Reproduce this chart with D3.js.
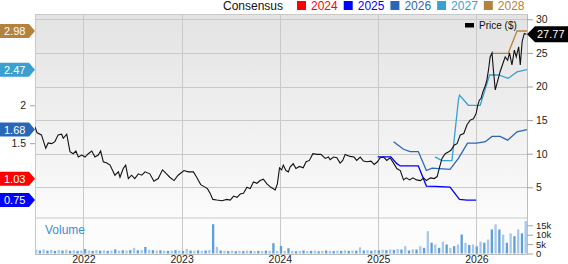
<!DOCTYPE html>
<html>
<head>
<meta charset="utf-8">
<script src="https://cdn.jsdelivr.net/npm/d3@7"></script>
<style>
  body { margin: 0; background: #fff; }
  svg { display: block; font-family: "Liberation Sans", Arial, sans-serif; }
</style>
</head>
<body>
<svg id="chart" width="568" height="264"></svg>
<script>
// ---- data ----
var consensusYears = ["2024", "2025", "2026", "2027", "2028"];
var consensusColors = ["#ff0000", "#0000ff", "#2a66b8", "#3aa0d0", "#b3823e"];
var consensusNow = [1.03, 0.75, 1.68, 2.47, 2.98];

var eps2025 = [["2024-12-30",1.32],["2025-02-17",1.32],["2025-03-11",1.23],["2025-03-24",1.20],["2025-05-30",1.20],
  ["2025-06-29",0.935],["2025-07-31",0.93],["2025-09-25",0.92],["2025-10-30",0.76],["2025-11-27",0.75],["2025-12-31",0.75]];
var eps2026 = [["2025-02-27",1.52],["2025-04-05",1.42],["2025-04-30",1.39],["2025-05-30",1.39],["2025-06-29",1.14],
  ["2025-07-20",1.17],["2025-09-25",1.155],["2025-10-26",1.30],["2025-11-29",1.50],["2026-01-02",1.50],["2026-02-03",1.52],
  ["2026-02-28",1.59],["2026-03-30",1.59],["2026-04-27",1.54],["2026-06-01",1.65],["2026-07-08",1.68]];
var eps2027 = [["2025-07-31",1.32],["2025-08-26",1.27],["2025-10-02",1.27],["2025-10-26",2.07],["2025-10-30",2.135],
  ["2025-12-02",2.0],["2026-01-15",2.0],["2026-02-19",2.40],["2026-03-24",2.40],["2026-04-29",2.355],["2026-06-01",2.44],["2026-07-08",2.47]];
var eps2028 = [["2026-02-28",2.685],["2026-04-29",2.685],["2026-06-01",2.98],["2026-07-08",2.98]];

var price = [["2021-07-05",14.0],["2021-07-13",13.1],["2021-07-29",12.8],["2021-08-14",10.8],["2021-08-23",11.6],["2021-09-05",11.5],
  ["2021-09-17",11.8],["2021-09-29",12.8],["2021-10-12",12.9],["2021-10-18",12.3],["2021-10-31",12.9],["2021-11-12",10.3],
  ["2021-11-24",10.0],["2021-12-04",10.4],["2021-12-13",9.5],["2021-12-26",9.8],["2022-01-07",9.5],["2022-01-19",10.0],
  ["2022-02-01",10.4],["2022-02-13",9.5],["2022-02-25",9.8],["2022-03-06",10.4],["2022-03-16",8.8],["2022-03-29",8.6],
  ["2022-04-10",8.3],["2022-04-28",6.8],["2022-05-11",7.3],["2022-05-17",6.5],["2022-05-29",7.8],["2022-06-07",8.3],
  ["2022-06-17",6.3],["2022-06-29",6.8],["2022-07-11",6.3],["2022-07-24",7.0],["2022-08-06",6.8],["2022-08-18",7.3],
  ["2022-09-05",7.0],["2022-09-20",5.9],["2022-10-06",6.3],["2022-10-22",7.6],["2022-11-06",7.0],["2022-11-18",6.5],
  ["2022-12-04",6.0],["2022-12-19",6.8],["2023-01-10",7.5],["2023-01-26",7.3],["2023-02-14",7.3],["2023-02-26",6.5],
  ["2023-03-13",5.4],["2023-03-26",5.1],["2023-04-07",4.8],["2023-04-17",4.1],["2023-04-27",3.2],["2023-05-12",3.1],
  ["2023-05-31",3.0],["2023-06-18",3.2],["2023-07-01",3.1],["2023-07-13",3.7],["2023-07-26",3.5],["2023-08-07",4.0],
  ["2023-08-19",4.1],["2023-09-01",5.0],["2023-09-13",4.8],["2023-09-25",5.8],["2023-10-08",5.6],["2023-10-20",6.0],
  ["2023-11-01",6.2],["2023-11-14",5.5],["2023-11-29",5.0],["2023-12-15",4.6],["2023-12-23",5.5],["2023-12-31",7.9],
  ["2024-01-08",7.6],["2024-01-14",8.3],["2024-01-24",7.5],["2024-02-02",7.3],["2024-02-08",8.0],["2024-02-20",8.5],
  ["2024-03-01",7.8],["2024-03-14",8.1],["2024-03-28",7.9],["2024-04-08",8.8],["2024-04-20",9.0],["2024-05-03",10.0],
  ["2024-05-18",9.9],["2024-06-02",9.9],["2024-06-18",9.3],["2024-06-30",9.5],["2024-07-06",9.1],["2024-07-19",9.5],
  ["2024-07-31",9.4],["2024-08-12",8.6],["2024-08-22",9.0],["2024-08-31",9.9],["2024-09-18",9.6],["2024-10-03",9.5],
  ["2024-10-13",9.0],["2024-10-26",9.5],["2024-11-07",8.9],["2024-11-20",8.8],["2024-12-05",8.9],["2024-12-17",8.4],
  ["2024-12-29",8.8],["2025-01-08",9.4],["2025-01-21",9.5],["2025-02-02",9.0],["2025-02-14",9.4],["2025-02-27",8.6],
  ["2025-03-11",7.8],["2025-03-24",7.5],["2025-04-05",6.1],["2025-04-15",6.4],["2025-04-28",6.1],["2025-05-10",6.4],
  ["2025-05-23",6.1],["2025-06-07",6.0],["2025-06-19",6.4],["2025-06-29",6.0],["2025-07-14",6.4],["2025-07-28",6.3],
  ["2025-08-08",6.6],["2025-08-17",8.0],["2025-08-26",9.3],["2025-09-07",10.0],["2025-09-20",10.3],["2025-09-28",10.5],
  ["2025-10-11",11.3],["2025-10-21",11.5],["2025-11-02",12.8],["2025-11-15",13.0],["2025-11-27",14.3],["2025-12-09",15.0],
  ["2025-12-21",15.2],["2025-12-31",16.0],["2026-01-05",17.0],["2026-01-12",18.0],["2026-01-18",18.2],["2026-01-25",19.2],
  ["2026-02-03",20.1],["2026-02-09",21.0],["2026-02-15",22.5],["2026-02-21",24.4],["2026-02-28",25.0],["2026-03-05",22.5],
  ["2026-03-12",19.5],["2026-03-20",20.7],["2026-03-30",22.2],["2026-04-10",23.5],["2026-04-18",24.4],["2026-04-27",23.9],
  ["2026-05-04",25.0],["2026-05-13",23.2],["2026-05-22",25.4],["2026-05-29",24.4],["2026-06-07",25.9],["2026-06-13",23.2],
  ["2026-06-20",26.7],["2026-06-28",27.9],["2026-07-06",27.77]];
var lastPrice = 27.77;

// volume in thousands, one bar every two weeks from volumeStart
var volumeStart = "2021-07-05";
var volume = [2.0,1.6,2.2,1.5,1.9,1.4,1.8,1.6,2.0,1.5,1.7,1.4,1.6,
  2.4,
  1.6,1.4,1.8,1.5,1.7,1.4,1.6,2.2,1.5,1.7,
  1.6,1.8,3.0,1.7,1.9,
  3.5,
  2.0,1.8,1.6,1.7,1.5,1.4,1.6,1.8,1.5,1.4,2.4,1.6,1.5,1.7,1.4,
  1.6,1.9,15.6,3.5,
  1.6,1.4,1.3,1.5,1.2,1.4,1.3,1.6,1.4,1.2,1.4,1.3,1.5,1.4,
  5.5,1.4,4.0,1.4,2.8,
  1.4,1.2,1.4,1.6,1.3,1.4,1.5,1.2,1.4,1.6,1.4,1.3,1.5,1.4,1.7,1.4,1.6,1.5,
  3.3,
  1.6,1.8,1.5,1.9,1.7,
  2.0,1.8,2.2,1.9,2.4,2.1,
  3.9,1.6,2.2,2.1,3.9,3.0,11.9,5.7,4.8,3.0,6.3,4.8,3.0,3.9,4.8,10.1,5.7,4.5,4.8,3.8,6.3,5.7,7.4,12.8,15.5,12.8,10.0,5.7,10.7,9.2,12.8,10.7,17.3];

var yearTicks = ["2022", "2023", "2024", "2025", "2026"];
var priceTicks = [5, 10, 15, 20, 25, 30];
var epsTicks = [1.5, 2];
var volumeTicks = [0, 5, 10, 15];

// ---- layout ----
var svg = d3.select("#chart");
var plotLeft = 35, plotRight = 527, plotTop = 14, priceBottom = 217, volTop = 219, volBottom = 254;
var parse = d3.timeParse("%Y-%m-%d");

var x = d3.scaleTime().domain([parse("2021-07-05"), parse("2026-07-08")]).range([plotLeft, plotRight]);
var yPrice = d3.scaleLinear().domain([0, 30]).range([220.9, 19.3]);
var yEps = d3.scaleLinear().domain([0, 3]).range([256.9, 29.5]);
var yVol = d3.scaleLinear().domain([0, 15]).range([253.5, 225.3]);

var defs = svg.append("defs");
var grad = defs.append("linearGradient").attr("id", "bg").attr("x1", 0).attr("y1", 0).attr("x2", 0).attr("y2", 1);
grad.append("stop").attr("offset", "0%").attr("stop-color", "#e3e3e3");
grad.append("stop").attr("offset", "100%").attr("stop-color", "#fbfbfb");
defs.append("clipPath").attr("id", "clipPrice").append("rect")
    .attr("x", plotLeft).attr("y", plotTop).attr("width", plotRight - plotLeft).attr("height", priceBottom - plotTop);

svg.append("rect").attr("x", plotLeft).attr("y", plotTop).attr("width", plotRight - plotLeft).attr("height", priceBottom - plotTop)
    .attr("fill", "url(#bg)");
svg.append("rect").attr("x", plotLeft).attr("y", volTop).attr("width", plotRight - plotLeft).attr("height", volBottom - volTop)
    .attr("fill", "#fcfcfc");
svg.append("rect").attr("x", plotLeft).attr("y", priceBottom).attr("width", plotRight - plotLeft).attr("height", volTop - priceBottom)
    .attr("fill", "#e2e2e2");

// grid
svg.append("g").selectAll("line").data(priceTicks).enter().append("line")
    .attr("x1", plotLeft).attr("x2", plotRight)
    .attr("y1", d => Math.round(yPrice(d)) + 0.5).attr("y2", d => Math.round(yPrice(d)) + 0.5)
    .attr("stroke", "#c9c9c9");
svg.append("g").selectAll("line").data(yearTicks).enter().append("line")
    .attr("x1", d => Math.round(x(parse(d + "-01-01"))) + 0.5).attr("x2", d => Math.round(x(parse(d + "-01-01"))) + 0.5)
    .attr("y1", plotTop).attr("y2", volBottom)
    .attr("stroke", "#c9c9c9");

// frame
svg.append("line").attr("x1", plotLeft).attr("x2", plotRight).attr("y1", plotTop + 0.5).attr("y2", plotTop + 0.5).attr("stroke", "#c9c9c9");
svg.append("line").attr("x1", plotLeft + 0.5).attr("x2", plotLeft + 0.5).attr("y1", plotTop).attr("y2", volBottom).attr("stroke", "#c9c9c9");
svg.append("line").attr("x1", plotLeft).attr("x2", plotRight).attr("y1", volBottom + 0.5).attr("y2", volBottom + 0.5).attr("stroke", "#bdbdbd");

// volume bars
var volDates = volume.map((v, i) => d3.timeDay.offset(parse(volumeStart), 14 * i));
svg.append("g").selectAll("rect").data(volume).enter().append("rect")
    .attr("x", (d, i) => x(volDates[i]))
    .attr("width", 2.3)
    .attr("y", d => yVol(d))
    .attr("height", d => yVol(0) - yVol(d))
    .attr("fill", (d, i) => i % 2 ? "#5f9fd8" : "#a6c8ea");

svg.append("text").attr("x", 45).attr("y", 233.5).attr("font-size", 12).attr("fill", "#3f8dd3").text("Volume");

// lines
var plot = svg.append("g").attr("clip-path", "url(#clipPrice)");
var epsLine = d3.line().x(d => x(parse(d[0]))).y(d => yEps(d[1]));
var series = [null, eps2025, eps2026, eps2027, eps2028];
series.forEach(function (s, i) {
  if (!s) return;
  plot.append("path").datum(s).attr("d", epsLine)
      .attr("fill", "none").attr("stroke", consensusColors[i]).attr("stroke-width", 1.3);
});
var priceLine = d3.line().x(d => x(parse(d[0]))).y(d => yPrice(d[1]));
plot.append("path").datum(price).attr("d", priceLine)
    .attr("fill", "none").attr("stroke", "#111").attr("stroke-width", 1.1);

// axes
function styleAxis(g, size) {
  g.select(".domain").remove();
  g.selectAll(".tick line").attr("stroke", "#a0a0a0");
  g.selectAll(".tick text").attr("fill", "#222").attr("font-size", size || 10.5)
      .attr("font-family", "\"Liberation Sans\", Arial, sans-serif");
}
svg.append("line").attr("x1", plotRight + 0.5).attr("x2", plotRight + 0.5).attr("y1", plotTop).attr("y2", volBottom).attr("stroke", "#bdbdbd");
svg.append("g").attr("transform", "translate(" + plotRight + ",0)")
    .call(d3.axisRight(yPrice).tickValues(priceTicks).tickSize(6).tickPadding(3)).call(styleAxis);
svg.append("g").attr("transform", "translate(" + plotRight + ",0)")
    .call(d3.axisRight(yVol).tickValues(volumeTicks).tickSize(6).tickPadding(3).tickFormat(d => d ? d + "k" : "0"))
    .call(styleAxis, 9.5);
svg.append("g").attr("transform", "translate(" + plotLeft + ",0)")
    .call(d3.axisLeft(yEps).tickValues(epsTicks).tickSize(5).tickPadding(4).tickFormat(d3.format("")))
    .call(styleAxis);
svg.append("g").attr("transform", "translate(0," + volBottom + ")")
    .call(d3.axisBottom(x).tickValues(yearTicks.map(d => parse(d + "-01-01"))).tickSize(0).tickPadding(2)
      .tickFormat(d3.timeFormat("%Y")))
    .call(styleAxis);

// left consensus tags
consensusNow.forEach(function (v, i) {
  var cy = yEps(v);
  svg.append("path")
      .attr("d", "M0," + (cy - 7) + "H29L35," + cy + "L29," + (cy + 7) + "H0Z")
      .attr("fill", consensusColors[i]);
  svg.append("text").attr("x", 4).attr("y", cy + 4).attr("font-size", 11).attr("fill", "#fff")
      .text(d3.format(".2f")(v));
});

// right price tag
var py = yPrice(lastPrice);
svg.append("path")
    .attr("d", "M" + plotRight + "," + py + "L" + (plotRight + 8) + "," + (py - 8) + "H568V" + (py + 8) + "H" + (plotRight + 8) + "Z")
    .attr("fill", "#000");
svg.append("text").attr("x", 537).attr("y", py + 4).attr("font-size", 11).attr("fill", "#fff").text(d3.format(".2f")(lastPrice));

// price legend
svg.append("rect").attr("x", 465).attr("y", 23).attr("width", 9).attr("height", 4.5).attr("fill", "#000");
svg.append("text").attr("x", 479).attr("y", 29).attr("font-size", 10).attr("fill", "#111").text("Price ($)");

// consensus legend
var legend = svg.append("g");
legend.append("text").attr("x", 223).attr("y", 10).attr("font-size", 12).attr("fill", "#111").text("Consensus");
var lx = 297;
consensusYears.forEach(function (yr, i) {
  legend.append("rect").attr("x", lx).attr("y", 1).attr("width", 9).attr("height", 9).attr("fill", consensusColors[i]);
  var t = legend.append("text").attr("x", lx + 14).attr("y", 10).attr("font-size", 12)
      .attr("fill", consensusColors[i]).text(yr);
  lx += 14 + t.node().getComputedTextLength() + 6;
});
</script>
</body>
</html>
